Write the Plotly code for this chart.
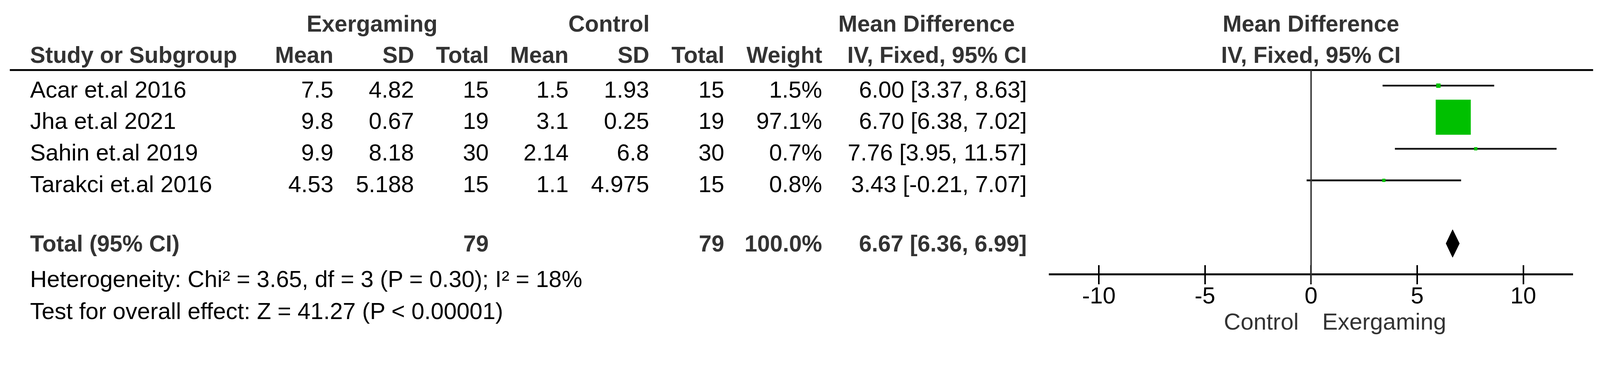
import plotly.graph_objects as go

# study rows
studies = ["Acar et.al 2016", "Jha et.al 2021", "Sahin et.al 2019", "Tarakci et.al 2016"]
exer_mean = [7.5, 9.8, 9.9, 4.53]
exer_sd = [4.82, 0.67, 8.18, 5.188]
exer_n = [15, 19, 30, 15]
ctrl_mean = [1.5, 3.1, 2.14, 1.1]
ctrl_sd = [1.93, 0.25, 6.8, 4.975]
ctrl_n = [15, 19, 30, 15]
weight = [1.5, 97.1, 0.7, 0.8]
md = [6.00, 6.70, 7.76, 3.43]
ci_low = [3.37, 6.38, 3.95, -0.21]
ci_high = [8.63, 7.02, 11.57, 7.07]

# pooled result
total_n_exer = 79
total_n_ctrl = 79
total_weight = 100.0
total_md = 6.67
total_low = 6.36
total_high = 6.99

heterogeneity = "Heterogeneity: Chi² = 3.65, df = 3 (P = 0.30); I² = 18%"
overall = "Test for overall effect: Z = 41.27 (P < 0.00001)"

tick_vals = [-10, -5, 0, 5, 10]
favours = ["Control", "Exergaming"]

# the page is shown at ~1.076 zoom with an 8px body margin, so work in
# reference-image pixels and convert to figure pixels
S = 4408 / 4096
MARGIN = 8
FW, FH = 4096 - MARGIN, 883 - MARGIN
ROW0, ROW_H = 236, 87          # reference px of first study row, row pitch
TOTAL_ROW = 5
FONT = "Liberation Sans, Arial, sans-serif"
GREY = "#333333"
FS = 64 / S
FS_B = 63 / S


def px(x):
    return (x / S - MARGIN) / FW


def py(y):
    return (FH - (y / S - MARGIN)) / FH


def row_of(y):
    return (y - ROW0) / ROW_H


fig = go.Figure()

# confidence intervals
ci_x, ci_y = [], []
for i in range(len(studies)):
    ci_x += [ci_low[i], ci_high[i], None]
    ci_y += [i, i, None]
fig.add_trace(go.Scatter(x=ci_x, y=ci_y, mode="lines",
                         line=dict(color="#111111", width=5 / S), hoverinfo="skip"))

# weighted squares
sizes = [max(9, 9.8 * w ** 0.5) / S for w in weight]
fig.add_trace(go.Scatter(x=md, y=list(range(len(studies))), mode="markers",
                         marker=dict(symbol="square", size=sizes, color="#00C000",
                                     opacity=1, line=dict(width=0))))

# pooled diamond
h = 0.44
fig.add_trace(go.Scatter(x=[total_low, total_md, total_high, total_md, total_low],
                         y=[TOTAL_ROW, TOTAL_ROW - h, TOTAL_ROW, TOTAL_ROW + h, TOTAL_ROW],
                         mode="lines", fill="toself", fillcolor="black",
                         line=dict(color="black", width=1)))

# dummy trace so the overlay axis (downward ticks) renders
fig.add_trace(go.Scatter(x=[0], y=[TOTAL_ROW], xaxis="x2", mode="markers",
                         marker=dict(opacity=0), hoverinfo="skip"))


def add_text(s, x, y, anchor="right", bold=False, color="black", xref="paper"):
    fig.add_annotation(text=f"<b>{s}</b>" if bold else s,
                       x=px(x) if xref == "paper" else x, xref=xref,
                       y=y, yref="y", xanchor=anchor, yanchor="middle",
                       showarrow=False,
                       font=dict(family=FONT, size=FS_B if bold else FS, color=color))


cols = [921, 1143, 1348, 1569, 1791, 1997, 2267, 2831]
hdr1 = row_of(65)
hdr2 = row_of(151)
add_text("Exergaming", 1025, hdr1, "center", True, GREY)
add_text("Control", 1678, hdr1, "center", True, GREY)
add_text("Mean Difference", 2553, hdr1, "center", True, GREY)
add_text("Mean Difference", 0, hdr1, "center", True, GREY, xref="x")
add_text("Study or Subgroup", 81, hdr2, "left", True, GREY)
for x, s in zip(cols, ["Mean", "SD", "Total", "Mean", "SD", "Total", "Weight",
                       "IV, Fixed, 95% CI"]):
    add_text(s, x, hdr2, "right", True, GREY)
add_text("IV, Fixed, 95% CI", 0, hdr2, "center", True, GREY, xref="x")

for i, name in enumerate(studies):
    y = i + 0.12
    add_text(name, 81, y, "left")
    vals = [f"{exer_mean[i]:g}", f"{exer_sd[i]:g}", str(exer_n[i]),
            f"{ctrl_mean[i]:g}", f"{ctrl_sd[i]:g}", str(ctrl_n[i]),
            f"{weight[i]:.1f}%", f"{md[i]:.2f} [{ci_low[i]:.2f}, {ci_high[i]:.2f}]"]
    for x, s in zip(cols, vals):
        add_text(s, x, y)

add_text("Total (95% CI)", 81, TOTAL_ROW, "left", True, GREY)
add_text(str(total_n_exer), cols[2], TOTAL_ROW, "right", True, GREY)
add_text(str(total_n_ctrl), cols[5], TOTAL_ROW, "right", True, GREY)
add_text(f"{total_weight:.1f}%", cols[6], TOTAL_ROW, "right", True, GREY)
add_text(f"{total_md:.2f} [{total_low:.2f}, {total_high:.2f}]", cols[7], TOTAL_ROW,
         "right", True, GREY)
add_text(heterogeneity, 81, row_of(769), "left")
add_text(overall, 81, row_of(857), "left")

# favours labels under the axis
for label, anchor, shift in [(favours[0], "right", -32), (favours[1], "left", 29)]:
    fig.add_annotation(text=label, x=0, xref="x", xanchor=anchor, xshift=shift / S,
                       y=row_of(886), yref="y", yanchor="middle", showarrow=False,
                       font=dict(family=FONT, size=FS, color=GREY))

# header rule and null line
fig.add_shape(type="line", xref="paper", yref="paper", x0=px(27), x1=px(4389),
              y0=py(193), y1=py(193), line=dict(color="black", width=5 / S))
fig.add_shape(type="line", xref="x", yref="paper", x0=0, x1=0,
              y0=py(193), y1=py(782), line=dict(color=GREY, width=4 / S))

axis_pos = py(756)
xdom = [px(2890), px(4334)]
xrng = [-12.35, 12.35]
fig.update_layout(
    width=FW, height=FH, margin=dict(l=0, r=0, t=0, b=0),
    paper_bgcolor="white", plot_bgcolor="rgba(0,0,0,0)", showlegend=False,
    xaxis=dict(domain=xdom, range=xrng, anchor="free", position=axis_pos,
               showline=True, linecolor="black", linewidth=5 / S,
               ticks="inside", ticklen=23 / S, tickwidth=4 / S, tickcolor="black",
               tickvals=tick_vals, ticktext=[str(v) for v in tick_vals],
               tickfont=dict(family=FONT, size=FS, color="black"),
               showgrid=False, zeroline=False),
    xaxis2=dict(domain=xdom, range=xrng, anchor="free", position=axis_pos,
                overlaying="x", showline=False, ticks="outside", ticklen=26 / S,
                tickwidth=4 / S, tickcolor="black", tickvals=tick_vals,
                showticklabels=False, showgrid=False, zeroline=False),
    yaxis=dict(domain=[0, 1], range=[row_of((FH + MARGIN) * S), row_of(MARGIN * S)],
               visible=False, showgrid=False, zeroline=False),
)

fig.write_html("out.html")
